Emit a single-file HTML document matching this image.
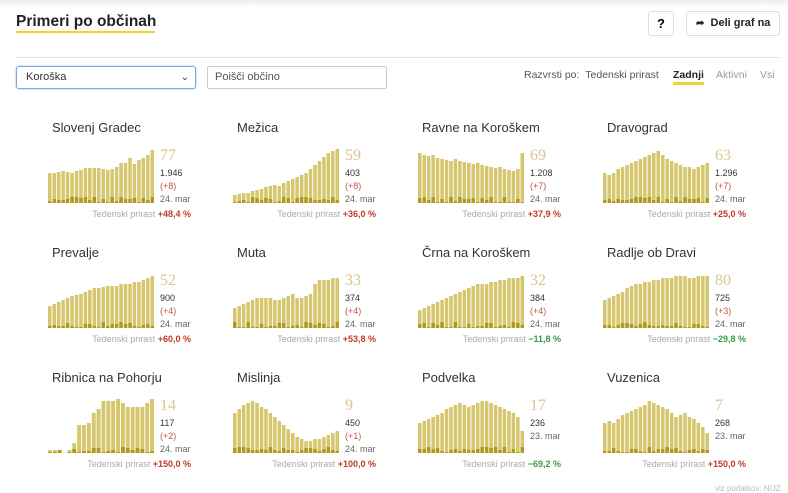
<!DOCTYPE html>
<html><head><meta charset="utf-8"><style>
body{margin:0;width:788px;height:492px;overflow:hidden;background:#fff;font-family:"Liberation Sans",sans-serif;position:relative}
.a{position:absolute;white-space:nowrap}
.t{font-size:13px;color:#333}
.big{font-size:16px;color:#d8c88a;font-family:"Liberation Serif",serif}
.s{font-size:9px;color:#333}
.r{font-size:9px;color:#c0564a}
.d{font-size:9px;color:#666}
.f{font-size:9px;color:#aaa;text-align:right;width:160px}
.f b{font-weight:bold;color:#c0392b}
.f b.g{color:#3a9a4a}
</style></head><body>
<div class="a" style="left:0;top:0;width:788px;height:8px;background:linear-gradient(#eee,#fff)"></div>
<div class="a" style="left:16px;top:13px;font-size:15.5px;font-weight:bold;color:#222">Primeri po občinah</div>
<div class="a" style="left:16px;top:31px;width:139px;height:2px;background:#f2d12e"></div>
<div class="a" style="left:648px;top:11px;width:24px;height:23px;border:1px solid #ddd;border-radius:3px;text-align:center;line-height:23px;font-weight:bold;font-size:13px">?</div>
<div class="a" style="left:686px;top:11px;width:92px;height:23px;border:1px solid #ddd;border-radius:3px;line-height:23px;font-weight:bold;font-size:11px;color:#222"><span style="margin-left:9px;font-size:10px">➦</span>&nbsp; Deli graf na</div>
<div class="a" style="left:16px;top:57px;width:764px;height:1px;background:#e4e4e4"></div>
<div class="a" style="left:16px;top:66px;width:178px;height:21px;border:1px solid #7aa7e0;border-radius:3px;box-shadow:0 0 2px #9bbcec;font-size:11px;line-height:21px;color:#333"><span style="margin-left:9px">Koroška</span><span style="position:absolute;right:6px;font-size:10px;color:#333">⌄</span></div>
<div class="a" style="left:207px;top:66px;width:178px;height:21px;border:1px solid #ccc;border-radius:2px;font-size:11px;line-height:21px;color:#555"><span style="margin-left:7px">Poišči občino</span></div>
<div class="a" style="left:524px;top:69px;font-size:10.5px;color:#555">Razvrsti po: &nbsp;Tedenski prirast</div>
<div class="a" style="left:673px;top:69px;font-size:10.5px;font-weight:bold;color:#222;border-bottom:3px solid #f2d12e;line-height:13px">Zadnji</div>
<div class="a" style="left:716px;top:69px;font-size:10.5px;color:#999">Aktivni</div>
<div class="a" style="left:760px;top:69px;font-size:10.5px;color:#999">Vsi</div>
<div class="a" style="left:715px;top:484px;font-size:8px;color:#bbb">viz podatkov: NIJZ</div>
<div id="g"></div>
<script>
var D=[
["Slovenj Gradec","77","1.946","(+8)","24. mar","+48,4 %",0,[30,30,31,32,31,30,32,33,35,35,35,35,34,33,34,36,40,40,45,39,43,45,48,53]],
["Mežica","59","403","(+8)","24. mar","+36,0 %",0,[8,9,10,10,12,13,14,16,17,18,17,20,22,24,26,28,30,34,38,42,46,50,52,54]],
["Ravne na Koroškem","69","1.208","(+7)","24. mar","+37,9 %",0,[50,48,47,48,45,44,43,42,44,42,41,40,39,40,38,37,36,35,36,34,33,32,34,50]],
["Dravograd","63","1.296","(+7)","24. mar","+25,0 %",0,[30,28,30,34,36,38,40,42,44,46,48,50,52,48,44,42,40,38,36,36,34,36,38,40]],
["Prevalje","52","900","(+4)","24. mar","+60,0 %",0,[22,24,26,28,30,32,33,34,36,38,40,40,41,42,42,42,44,44,44,46,46,48,50,52]],
["Muta","33","374","(+4)","24. mar","+53,8 %",0,[20,22,24,26,28,30,30,30,30,28,28,30,32,34,30,30,32,34,44,48,48,48,50,50]],
["Črna na Koroškem","32","384","(+4)","24. mar","\u221211,8 %",1,[18,20,22,24,26,28,30,32,34,36,38,40,42,44,44,44,46,46,48,48,50,50,50,52]],
["Radlje ob Dravi","80","725","(+3)","24. mar","\u221229,8 %",1,[28,30,32,34,36,40,42,44,44,46,46,48,48,50,50,50,52,52,52,50,50,52,52,52]],
["Ribnica na Pohorju","14","117","(+2)","24. mar","+150,0 %",0,[3,3,3,0,3,10,28,28,30,40,44,52,52,52,54,50,46,46,46,46,50,54,0,0]],
["Mislinja","9","450","(+1)","24. mar","+100,0 %",0,[40,44,48,50,52,50,46,44,40,36,32,28,24,20,16,14,12,12,14,14,16,18,20,22]],
["Podvelka","17","236","23. mar","","\u221269,2 %",1,[30,32,34,36,38,40,44,46,48,50,48,46,48,50,52,52,50,48,46,44,42,40,36,22]],
["Vuzenica","7","268","23. mar","","+150,0 %",0,[30,32,30,34,38,40,42,44,46,48,52,50,48,46,44,40,36,38,40,36,34,30,26,20]]];
var h="";
D.forEach(function(c,i){
 var x=48+(i%4)*185,y=128+Math.floor(i/4)*125;
 var v=c[7].filter(function(_,k){return !(i==8&&k>=22)});
 h+='<div class="a t" style="left:'+(x+4)+'px;top:'+(y-8)+'px">'+c[0]+'</div>';
 var n=v.length,w=107/n,svg='<svg class="a" style="left:'+x+'px;top:'+(y+20)+'px" width="110" height="56">';
 var s=i*7+3;
 for(var k=0;k<n;k++){var hh=v[k];s=(s*37+11)%97;var dk=hh?Math.min(hh,1+s%6):0;
  svg+='<rect x="'+(k*w).toFixed(1)+'" y="'+(55-hh)+'" width="'+(w-1).toFixed(1)+'" height="'+hh+'" fill="#d6c66e"/>';
  svg+='<rect x="'+(k*w).toFixed(1)+'" y="'+(55-dk)+'" width="'+(w-1).toFixed(1)+'" height="'+dk+'" fill="#ae9a1c"/>';}
 svg+='</svg>';h+=svg;
 h+='<div class="a big" style="left:'+(x+112)+'px;top:'+(y+19)+'px">'+c[1]+'</div>';
 h+='<div class="a s" style="left:'+(x+112)+'px;top:'+(y+40)+'px">'+c[2]+'</div>';
 if(c[4]){h+='<div class="a r" style="left:'+(x+112)+'px;top:'+(y+53)+'px">'+c[3]+'</div>';
 h+='<div class="a d" style="left:'+(x+112)+'px;top:'+(y+66)+'px">'+c[4]+'</div>';}
 else h+='<div class="a d" style="left:'+(x+112)+'px;top:'+(y+53)+'px">'+c[3]+'</div>';
 h+='<div class="a f" style="left:'+(x-17)+'px;top:'+(y+81)+'px">Tedenski prirast <b'+(c[6]?' class="g"':'')+'>'+c[5]+'</b></div>';
});
document.getElementById("g").innerHTML=h;
</script>
</body></html>
